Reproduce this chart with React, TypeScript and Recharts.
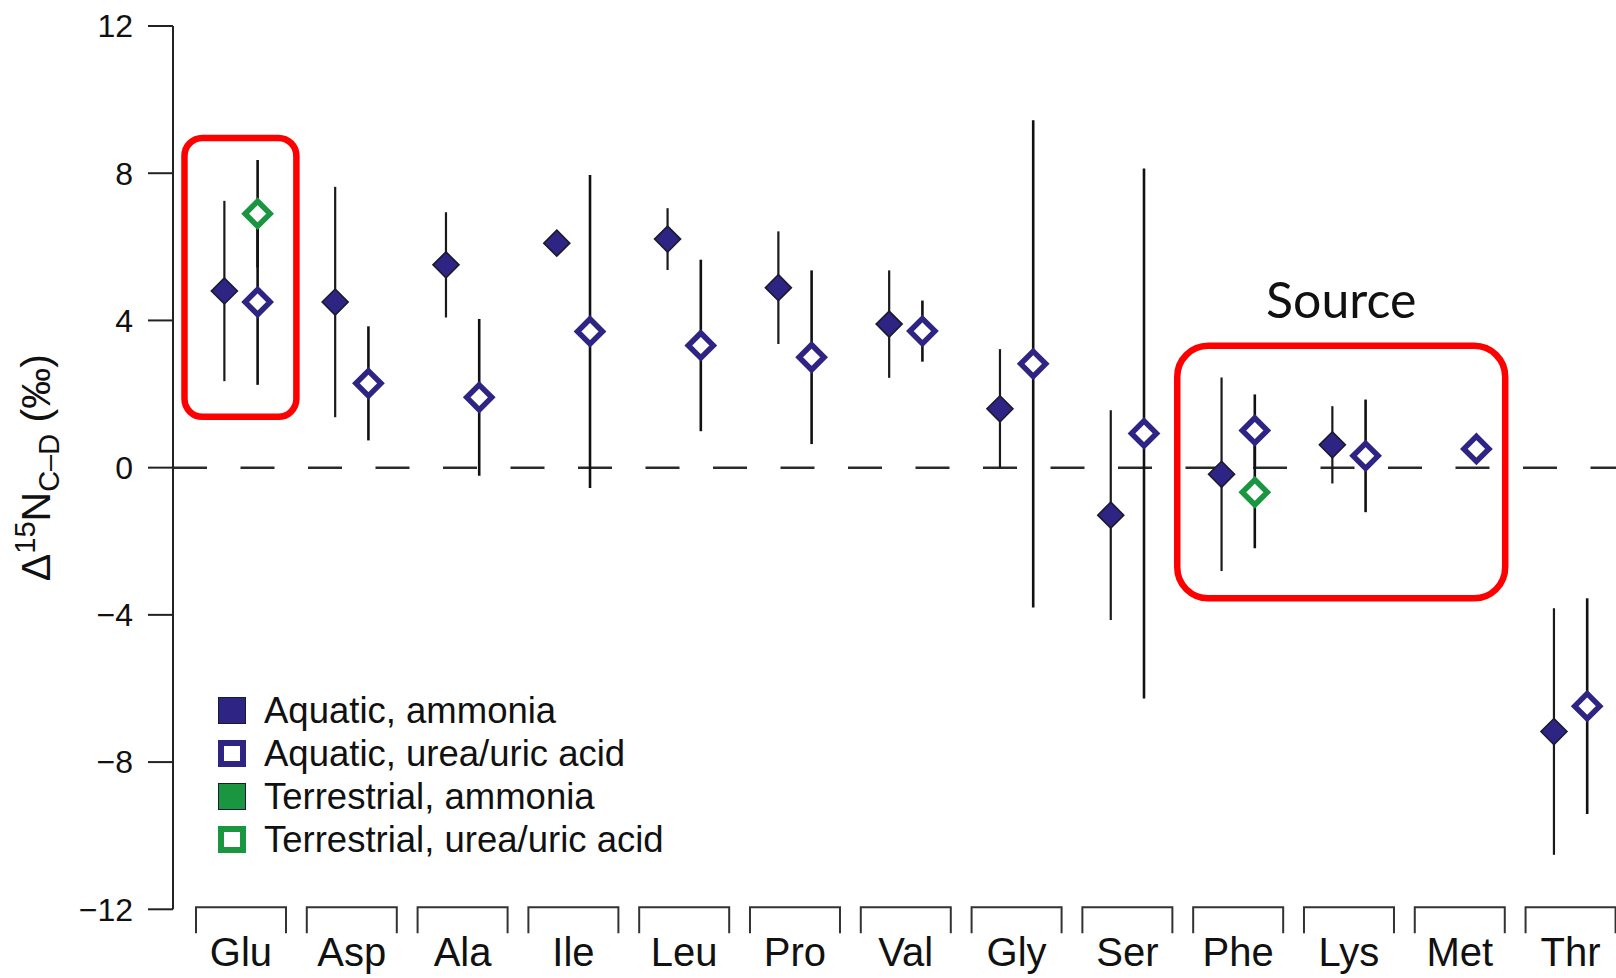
import React from 'react';
import {
  ScatterChart,
  Scatter,
  XAxis,
  YAxis,
  ErrorBar,
  ReferenceLine,
  ReferenceArea,
  Legend,
  Label,
} from 'recharts';

// Amino acids along the x axis
const categories = ['Glu', 'Asp', 'Ala', 'Ile', 'Leu', 'Pro', 'Val', 'Gly', 'Ser', 'Phe', 'Lys', 'Met', 'Thr'];

// Δ15N C–D means (‰) with symmetric ± ranges; null = no measurement
const aquaticAmmonia = [4.8, 4.5, 5.51, 6.1, 6.21, 4.89, 3.9, 1.6, -1.29, -0.18, 0.62, null, -7.17];
const aquaticAmmoniaErr = [2.45, 3.13, 1.43, 0, 0.84, 1.53, 1.46, 1.62, 2.85, 2.63, 1.05, null, 3.35];

const aquaticUrea = [4.5, 2.29, 1.91, 3.7, 3.32, 3.0, 3.71, 2.82, 0.93, 1.01, 0.32, 0.51, -6.48];
const aquaticUreaErr = [2.25, 1.55, 2.13, 4.25, 2.33, 2.36, 0.83, 6.62, 7.2, 0.98, 1.53, 0, 2.93];

const terrestrialAmmonia: (number | null)[] = [null, null, null, null, null, null, null, null, null, null, null, null, null];
const terrestrialAmmoniaErr: (number | null)[] = [null, null, null, null, null, null, null, null, null, null, null, null, null];

const terrestrialUrea = [6.9, null, null, null, null, null, null, null, null, -0.67, null, null, null];
const terrestrialUreaErr = [1.46, null, null, null, null, null, null, null, null, 1.52, null, null, null];

const seriesNames = ['Aquatic, ammonia', 'Aquatic, urea/uric acid', 'Terrestrial, ammonia', 'Terrestrial, urea/uric acid'];

const yTicks = [-12, -8, -4, 0, 4, 8, 12];
const xTicks = categories.map((_, i) => i);

// highlighted regions (data units)
const gluBox = { x1: -0.51, x2: 0.5, y1: 1.38, y2: 8.96 };
const sourceBox = { x1: 8.45, x2: 11.41, y1: -3.55, y2: 3.31 };

const NAVY = '#2e2484';
const GREEN = '#1a9641';
const FONT = "'Liberation Sans', Arial, Helvetica, sans-serif";

// ammonia markers sit left of the category centre, urea/uric acid markers right
const LEFT = -0.15;
const RIGHT = 0.15;

type Pt = { x: number; y: number; err: number };
const build = (vals: (number | null)[], errs: (number | null)[], shift: number): Pt[] =>
  vals
    .map((v, i) => (v === null ? null : { x: i + shift, y: v, err: errs[i] ?? 0 }))
    .filter((p): p is Pt => p !== null);

const dataAqAmm = build(aquaticAmmonia, aquaticAmmoniaErr, LEFT);
const dataAqUrea = build(aquaticUrea, aquaticUreaErr, RIGHT);
const dataTerAmm = build(terrestrialAmmonia, terrestrialAmmoniaErr, LEFT);
const dataTerUrea = build(terrestrialUrea, terrestrialUreaErr, RIGHT);

const diamondPath = (cx: number, cy: number, r: number) =>
  `M${cx},${cy - r} L${cx + r},${cy} L${cx},${cy + r} L${cx - r},${cy} Z`;

const filledDiamond = (color: string) => (props: any) => {
  const { cx, cy } = props;
  if (cx == null || cy == null) return <g />;
  return <path d={diamondPath(cx, cy, 13)} fill={color} stroke="#1c1a2e" strokeWidth={1.6} />;
};

const openDiamond = (color: string) => (props: any) => {
  const { cx, cy } = props;
  if (cx == null || cy == null) return <g />;
  return <path d={diamondPath(cx, cy, 12.5)} fill="#ffffff" stroke={color} strokeWidth={5.5} />;
};

const CategoryTick = (props: any) => {
  const { x, y, payload } = props;
  const name = categories[payload.value];
  return (
    <g>
      <path
        d={`M${x - 45},${y + 24} V${y - 2} H${x + 45} V${y + 24}`}
        fill="none"
        stroke="#333"
        strokeWidth={2}
      />
      <text x={x} y={y + 57} textAnchor="middle" fontSize={40} fill="#111" fontFamily={FONT}>
        {name}
      </text>
    </g>
  );
};

const RoundedBox = (radius: number) => (props: any) => {
  const { x, y, width, height } = props;
  return (
    <rect
      x={x}
      y={y}
      width={width}
      height={height}
      rx={radius}
      ry={radius}
      fill="none"
      stroke="#ff0000"
      strokeWidth={6.5}
    />
  );
};

const YTitle = (props: any) => {
  const vb = props.viewBox || { x: 0, y: 26, width: 173, height: 883 };
  const cy = vb.y + vb.height / 2;
  return (
    <text
      transform={`translate(50, ${cy}) rotate(-90)`}
      textAnchor="middle"
      fontFamily={FONT}
      fill="#111"
      fontSize={41}
    >
      <tspan>Δ</tspan>
      <tspan dy={-15} fontSize={29}>15</tspan>
      <tspan dy={15} fontSize={41}>N</tspan>
      <tspan dy={9} fontSize={29}>C–D</tspan>
      <tspan dy={-9} fontSize={41}>{'\u00a0(‰)'}</tspan>
    </text>
  );
};

const legendSwatch = [
  { color: NAVY, filled: true },
  { color: NAVY, filled: false },
  { color: GREEN, filled: true },
  { color: GREEN, filled: false },
];

const LegendBox = () => (
  <div style={{ fontFamily: FONT, fontSize: 36.5, color: '#111' }}>
    {seriesNames.map((name, i) => (
      <div key={name} style={{ display: 'flex', alignItems: 'center', height: 43, lineHeight: '43px' }}>
        <div
          style={{
            width: 28,
            height: 27,
            boxSizing: 'border-box',
            background: legendSwatch[i].filled ? legendSwatch[i].color : '#fff',
            border: legendSwatch[i].filled ? '1.5px solid #1c1a2e' : `6px solid ${legendSwatch[i].color}`,
            marginRight: 18,
            flex: 'none',
          }}
        />
        <span style={{ whiteSpace: 'nowrap' }}>{name}</span>
      </div>
    ))}
  </div>
);

export default function App() {
  return (
    <div style={{ position: 'absolute', left: 0, top: 0, width: 1616, height: 978, background: '#fff', fontFamily: FONT }}>
      <ScatterChart width={1616} height={978} margin={{ top: 26, right: 0, bottom: 0, left: 0 }}>
        <XAxis
          type="number"
          dataKey="x"
          domain={[-0.6137, 12.41]}
          allowDataOverflow
          ticks={xTicks}
          interval={0}
          axisLine={false}
          tickLine={false}
          tickSize={0}
          tickMargin={0}
          height={68.7}
          tick={<CategoryTick />}
        />
        <YAxis
          type="number"
          dataKey="y"
          domain={[-12, 12]}
          ticks={yTicks}
          interval={0}
          width={173}
          tickSize={25}
          tickMargin={15}
          axisLine={{ stroke: '#222', strokeWidth: 2 }}
          tickLine={{ stroke: '#222', strokeWidth: 2 }}
          tick={{ fontSize: 32, fill: '#111', fontFamily: FONT }}
          tickFormatter={(v: number) => (v < 0 ? `−${Math.abs(v)}` : `${v}`)}
        >
          <Label content={<YTitle />} />
        </YAxis>
        <ReferenceLine y={0} stroke="#2a2a2a" strokeWidth={2.5} strokeDasharray="34 33.5" />
        <Scatter name={seriesNames[0]} data={dataAqAmm} shape={filledDiamond(NAVY)} isAnimationActive={false}>
          <ErrorBar dataKey="err" direction="y" width={0} stroke="#1a1a1a" strokeWidth={2.2} isAnimationActive={false} />
        </Scatter>
        <Scatter name={seriesNames[1]} data={dataAqUrea} shape={openDiamond(NAVY)} isAnimationActive={false}>
          <ErrorBar dataKey="err" direction="y" width={0} stroke="#111" strokeWidth={2.6} isAnimationActive={false} />
        </Scatter>
        <Scatter name={seriesNames[2]} data={dataTerAmm} shape={filledDiamond(GREEN)} isAnimationActive={false}>
          <ErrorBar dataKey="err" direction="y" width={0} stroke="#1a1a1a" strokeWidth={2.2} isAnimationActive={false} />
        </Scatter>
        <Scatter name={seriesNames[3]} data={dataTerUrea} shape={openDiamond(GREEN)} isAnimationActive={false}>
          <ErrorBar dataKey="err" direction="y" width={0} stroke="#111" strokeWidth={2.6} isAnimationActive={false} />
        </Scatter>
        <ReferenceArea {...gluBox} shape={RoundedBox(18)} />
        <ReferenceArea {...sourceBox} shape={RoundedBox(31)}>
          <Label value="Source" position="top" offset={28} fontSize={50} fontFamily="Lato, 'Open Sans', sans-serif" fill="#111" />
        </ReferenceArea>
        <Legend
          content={<LegendBox />}
          layout="horizontal"
          verticalAlign="middle"
          align="center"
          wrapperStyle={{ left: 218, top: 688.5, width: 520, height: 172 }}
        />
      </ScatterChart>
    </div>
  );
}
